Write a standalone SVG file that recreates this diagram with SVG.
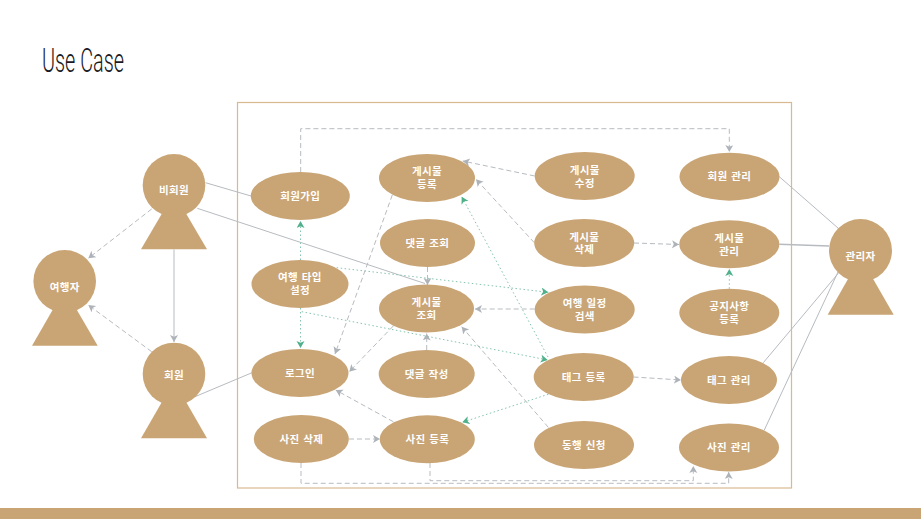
<svg xmlns="http://www.w3.org/2000/svg" width="921" height="519" viewBox="0 0 921 519">
<style>
.n{fill:#c9a575}
.t{font-family:"Noto Sans CJK KR","Noto Sans",sans-serif;font-size:10.500px;font-weight:700;fill:#fff;text-anchor:middle;letter-spacing:.35px;word-spacing:1px}
.c{fill:none;stroke:#b7bbc0}
.s{stroke-width:1}
.d{stroke-width:1;stroke-dasharray:5 3}
.g{fill:none;stroke:#85c4ae;stroke-width:1;stroke-dasharray:1.500 2.500}
.a{marker-end:url(#ga)}
.b{marker-end:url(#ag)}
</style>
<defs>
<marker id="ga" markerUnits="userSpaceOnUse" markerWidth="10" markerHeight="10" refX="7" refY="4" orient="auto"><path d="M0 0L7 4L0 8L1.800 4Z" fill="#aeb3b9"/></marker>
<marker id="ag" markerUnits="userSpaceOnUse" markerWidth="10" markerHeight="10" refX="7" refY="4" orient="auto"><path d="M0 0L7 4L0 8L1.800 4Z" fill="#4fb08a"/></marker>
</defs>
<rect width="921" height="519" fill="#fff"/>
<text x="42" y="72" font-family="Roboto,sans-serif" font-weight="300" font-size="33" fill="#1a1a24" textLength="82" lengthAdjust="spacingAndGlyphs">Use Case</text>
<rect x="237.500" y="102.500" width="554" height="385.500" fill="none" stroke="#d8b992" stroke-width="1.200"/>
<rect x="0" y="508" width="921" height="11" fill="#c9a575"/>
<g id="connectors">
<path class="c s" d="M205.500 182.700L251 196"/>
<path class="c s" d="M197.300 208.300L425 283.500"/>
<path class="c s" d="M195 396.700L252 372.700"/>
<path class="c s a" d="M174 249.500V342"/>
<path class="c d a" d="M151.700 209L88.300 258.300"/>
<path class="c d a" d="M151.700 351.700L88.300 305"/>
<path class="c s" d="M779.300 176.700L838.300 228.300"/>
<path class="c" stroke-width="1.500" d="M779.300 244.300L829 246"/>
<path class="c s" d="M763.300 362.700L838.300 273.300"/>
<path class="c s" d="M764.300 430L838 272"/>
<path class="c d a" d="M300.700 172V128.700H729.300V152"/>
<path class="c d a" d="M534.700 176L462.700 161"/>
<path class="c d a" d="M534.300 242.700L476 179.300"/>
<path class="c d a" d="M392.300 195L335 354"/>
<path class="c d a" d="M427.500 267V285"/>
<path class="c d a" d="M393.300 326L349.300 371.700"/>
<path class="c d a" d="M426.700 350V333.500"/>
<path class="c d a" d="M534.700 309H475"/>
<path class="c d a" d="M548.300 427.300L461.700 326.700"/>
<path class="c d a" d="M393.300 421.700L335.700 390"/>
<path class="c d a" d="M349 439H380"/>
<path class="c d a" d="M430 463V480.700H693.300V466"/>
<path class="c d a" d="M301 463V483.300H728.700V472"/>
<path class="c d a" d="M634 243L679 244.500"/>
<path class="c d a" d="M633.500 377L681 380"/>
<path class="g b" d="M300.500 260V221"/>
<path class="g b" d="M300.500 308V348"/>
<path class="g b" d="M336.700 267.700L548.300 292.300"/>
<path class="g b" d="M301.700 311.700L547.700 360"/>
<path class="g b" d="M729.300 288.700V269"/>
<path class="g b" d="M548 357L461.700 196.700"/>
<path class="g b" d="M548.300 394.300L462.300 422.300"/>
</g>
<g id="actor-traveler"><path class="n" d="M64.700 289L97.700 345.700H32Z"/><circle class="n" cx="64.700" cy="281.300" r="31.300"/><text class="t" x="64.700" y="290.500">여행자</text></g>
<g id="actor-guest"><path class="n" d="M174 193L207 249.300H141Z"/><circle class="n" cx="174" cy="185.300" r="31.300"/><text class="t" x="174" y="194">비회원</text></g>
<g id="actor-member"><path class="n" d="M174 381L207 438.300H141Z"/><circle class="n" cx="174" cy="374" r="31.300"/><text class="t" x="174" y="378.500">회원</text></g>
<g id="actor-admin"><path class="n" d="M860.500 257L893.700 314.700H827.700Z"/><circle class="n" cx="860.500" cy="250.500" r="31.500"/><text class="t" x="860.500" y="260">관리자</text></g>
<g id="uc-signup"><ellipse class="n" cx="300.300" cy="196" rx="49.500" ry="24"/><text class="t" x="300.300" y="199.500">회원가입</text></g>
<g id="uc-post-create"><ellipse class="n" cx="427" cy="178" rx="48" ry="24"/><text class="t" x="427" y="175"><tspan x="427">게시물</tspan><tspan x="427" dy="12.500">등록</tspan></text></g>
<g id="uc-comment-view"><ellipse class="n" cx="427.500" cy="243" rx="47.500" ry="24"/><text class="t" x="427.500" y="246.500">댓글 조회</text></g>
<g id="uc-trip-type"><ellipse class="n" cx="300" cy="284" rx="48.500" ry="24"/><text class="t" x="300" y="281"><tspan x="300">여행 타입</tspan><tspan x="300" dy="13">설정</tspan></text></g>
<g id="uc-post-view"><ellipse class="n" cx="426.500" cy="308.500" rx="47.500" ry="24"/><text class="t" x="426.500" y="306"><tspan x="426.500">게시물</tspan><tspan x="426.500" dy="12.500">조회</tspan></text></g>
<g id="uc-login"><ellipse class="n" cx="300" cy="373" rx="48.500" ry="24"/><text class="t" x="300" y="376.500">로그인</text></g>
<g id="uc-comment-write"><ellipse class="n" cx="426.700" cy="374" rx="48" ry="24"/><text class="t" x="426.700" y="377.500">댓글 작성</text></g>
<g id="uc-photo-delete"><ellipse class="n" cx="301.300" cy="439" rx="47.500" ry="24"/><text class="t" x="301.300" y="442.500">사진 삭제</text></g>
<g id="uc-photo-create"><ellipse class="n" cx="427.300" cy="439.300" rx="47.500" ry="24"/><text class="t" x="427.300" y="442.800">사진 등록</text></g>
<g id="uc-post-edit"><ellipse class="n" cx="584.700" cy="176" rx="50" ry="24"/><text class="t" x="584.700" y="174"><tspan x="584.700">게시물</tspan><tspan x="584.700" dy="12.500">수정</tspan></text></g>
<g id="uc-member-admin"><ellipse class="n" cx="729.500" cy="176.700" rx="50" ry="24"/><text class="t" x="729.500" y="180">회원 관리</text></g>
<g id="uc-post-delete"><ellipse class="n" cx="584.200" cy="243" rx="50" ry="24"/><text class="t" x="584.200" y="240.500"><tspan x="584.200">게시물</tspan><tspan x="584.200" dy="12.500">삭제</tspan></text></g>
<g id="uc-post-admin"><ellipse class="n" cx="729.300" cy="244.300" rx="50" ry="24"/><text class="t" x="729.300" y="242"><tspan x="729.300">게시물</tspan><tspan x="729.300" dy="12.500">관리</tspan></text></g>
<g id="uc-trip-search"><ellipse class="n" cx="584.700" cy="309.500" rx="50" ry="24"/><text class="t" x="584.700" y="307"><tspan x="584.700">여행 일정</tspan><tspan x="584.700" dy="12.500">검색</tspan></text></g>
<g id="uc-notice"><ellipse class="n" cx="729.300" cy="312.700" rx="50" ry="24"/><text class="t" x="729.300" y="310"><tspan x="729.300">공지사항</tspan><tspan x="729.300" dy="12.500">등록</tspan></text></g>
<g id="uc-tag-create"><ellipse class="n" cx="583.700" cy="377" rx="50" ry="24"/><text class="t" x="583.700" y="380.500">태그 등록</text></g>
<g id="uc-tag-admin"><ellipse class="n" cx="729" cy="380" rx="48" ry="24"/><text class="t" x="729" y="383.500">태그 관리</text></g>
<g id="uc-companion"><ellipse class="n" cx="584" cy="445" rx="50" ry="24"/><text class="t" x="584" y="448.500">동행 신청</text></g>
<g id="uc-photo-admin"><ellipse class="n" cx="729" cy="447.500" rx="50" ry="24"/><text class="t" x="729" y="451">사진 관리</text></g>
</svg>
